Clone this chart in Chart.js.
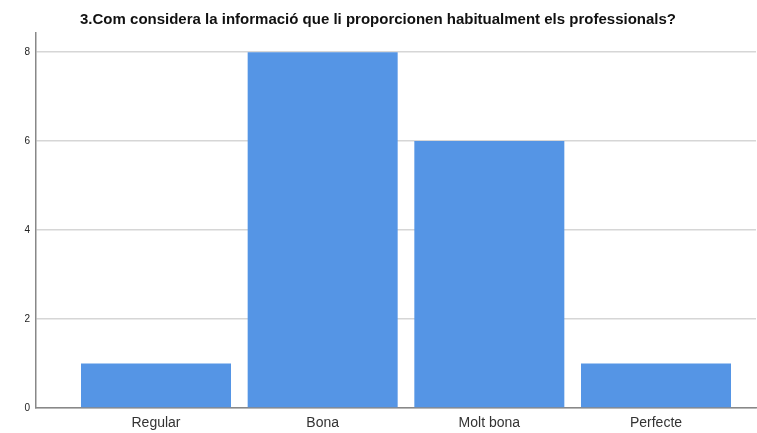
<!DOCTYPE html>
<html>
<head>
<meta charset="utf-8">
<script src="https://cdn.jsdelivr.net/npm/chart.js@4.4.0/dist/chart.umd.min.js"></script>
<style>
  html, body { margin: 0; padding: 0; background: #fff; }
  #wrap { width: 757px; height: 433px; }
</style>
</head>
<body>
<div id="wrap"><canvas id="myChart"></canvas></div>
<script>
const titleText = '3.Com considera la informació que li proporcionen habitualment els professionals?';
const categories = ['Regular', 'Bona', 'Molt bona', 'Perfecte'];
const counts = [1, 8, 6, 1];
const yTicks = [0, 2, 4, 6, 8];

const points = counts.map((v, i) => ({ x: i + 1, y: v }));

new Chart(document.getElementById('myChart'), {
    type: 'bar',
    data: {
        datasets: [{
            data: points,
            backgroundColor: '#5595e5',
            borderWidth: 0,
            categoryPercentage: 1,
            barPercentage: 0.9
        }]
    },
    options: {
        responsive: true,
        maintainAspectRatio: false,
        animation: false,
        layout: { padding: { left: 0, right: 1, top: 0, bottom: 0 } },
        plugins: {
            legend: { display: false },
            tooltip: { enabled: false },
            title: {
                display: true,
                text: titleText,
                color: '#111',
                font: { family: 'Liberation Sans, Arial, sans-serif', size: 15, weight: 'bold' },
                padding: { top: 11, bottom: 4 }
            }
        },
        scales: {
            x: {
                type: 'linear',
                offset: false,
                min: 0.28,
                max: 4.6,
                afterBuildTicks: axis => {
                    axis.ticks = categories.map((c, i) => ({ value: i + 1 }));
                },
                afterFit: axis => { axis.height = 25; },
                ticks: {
                    callback: v => categories[v - 1] || '',
                    color: '#333',
                    padding: 7,
                    maxRotation: 0,
                    autoSkip: false,
                    font: { family: 'Liberation Sans, Arial, sans-serif', size: 14 }
                },
                grid: { display: false, drawTicks: false },
                border: { display: true, color: '#888', width: 1.5 }
            },
            y: {
                min: 0,
                max: 8.43,
                afterBuildTicks: axis => {
                    axis.ticks = yTicks.map(v => ({ value: v }));
                },
                afterFit: axis => { axis.width = 36; },
                ticks: {
                    color: '#222',
                    padding: 6,
                    font: { family: 'Liberation Sans, Arial, sans-serif', size: 10 }
                },
                grid: { color: '#d6d6d6', lineWidth: 1.5, drawTicks: false },
                border: { display: true, color: '#888', width: 1.5 }
            }
        }
    }
});
</script>
</body>
</html>
